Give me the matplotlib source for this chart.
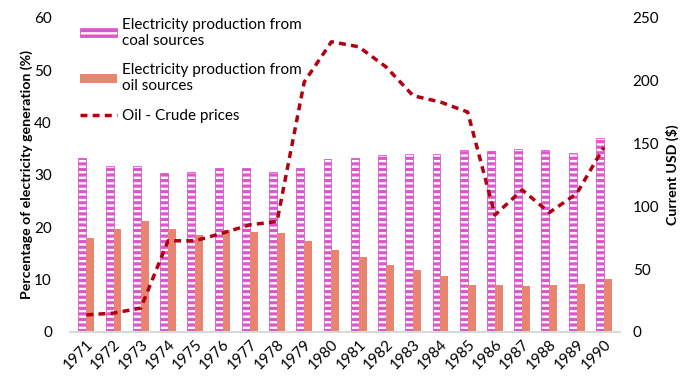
import numpy as np
import matplotlib.pyplot as plt

plt.rcParams['font.family'] = ['Lato', 'DejaVu Sans']
plt.rcParams['hatch.linewidth'] = 2.3

# data
years = [str(y) for y in range(1971, 1991)]
coal = [33.2, 31.7, 31.6, 30.3, 30.5, 31.3, 31.3, 30.5, 31.4, 33.0,
        33.2, 33.7, 34.0, 33.9, 34.8, 34.6, 35.0, 34.7, 34.2, 37.1]
oil = [17.9, 19.7, 21.1, 19.7, 18.5, 19.4, 19.0, 18.9, 17.4, 15.7,
       14.3, 12.7, 11.8, 10.7, 9.0, 9.0, 8.7, 8.9, 9.2, 10.0]
crude = [13.5, 14.9, 18.9, 72.5, 72.5, 78.6, 85.2, 87.8, 199, 231,
         227, 211, 188, 183, 175, 93, 113, 95, 110, 147]

coal_col = '#dd55cc'
oil_col = '#e8846f'
line_col = '#b00012'

fig = plt.figure(figsize=(7, 3.89), dpi=100)
ax = fig.add_axes([0.1, 0.147, 0.786, 0.807])
ax2 = ax.twinx()

x = np.arange(len(years))
w = 0.29
b1 = ax.bar(x - w / 2, coal, w, facecolor='white', edgecolor=coal_col,
            hatch='---', linewidth=0.6,
            label='Electricity production from\ncoal sources')
b2 = ax.bar(x + w / 2, oil, w, color=oil_col,
            label='Electricity production from\noil sources')
l1, = ax2.plot(x, crude, color=line_col, linewidth=2.5, dashes=(2, 1.5),
               label='Oil - Crude prices')

ax.set_xlim(-0.6, len(years) - 0.4)
ax.set_ylim(0, 60)
ax2.set_ylim(0, 250)
ax.set_yticks(range(0, 61, 10))
ax2.set_yticks(range(0, 251, 50))
ax.set_xticks(x)
ax.set_xticklabels(years, rotation=45, ha='right', rotation_mode='anchor')

for a in (ax, ax2):
    for s in a.spines.values():
        s.set_visible(False)
    a.tick_params(length=0, labelsize=11)
ax.spines['bottom'].set_visible(True)
ax.spines['bottom'].set_color('#d9d9d9')
ax.spines['bottom'].set_linewidth(1.5)
ax.tick_params(axis='x', pad=4)
ax.tick_params(axis='y', pad=13)
ax2.tick_params(axis='y', pad=9)

ax.set_ylabel('Percentage of electricity generation (%)', fontsize=10.2,
              fontweight='bold', labelpad=1)
ax2.set_ylabel('Current USD ($)', fontsize=10.2, fontweight='bold', labelpad=5)

fig.legend(handles=[b1, b2, l1], loc='upper left',
           bbox_to_anchor=(0.095, 0.99), frameon=False, fontsize=11,
           handlelength=2.4, handleheight=0.5, labelspacing=1.0,
           handletextpad=0.35)

fig.savefig('out.png', dpi=100)
